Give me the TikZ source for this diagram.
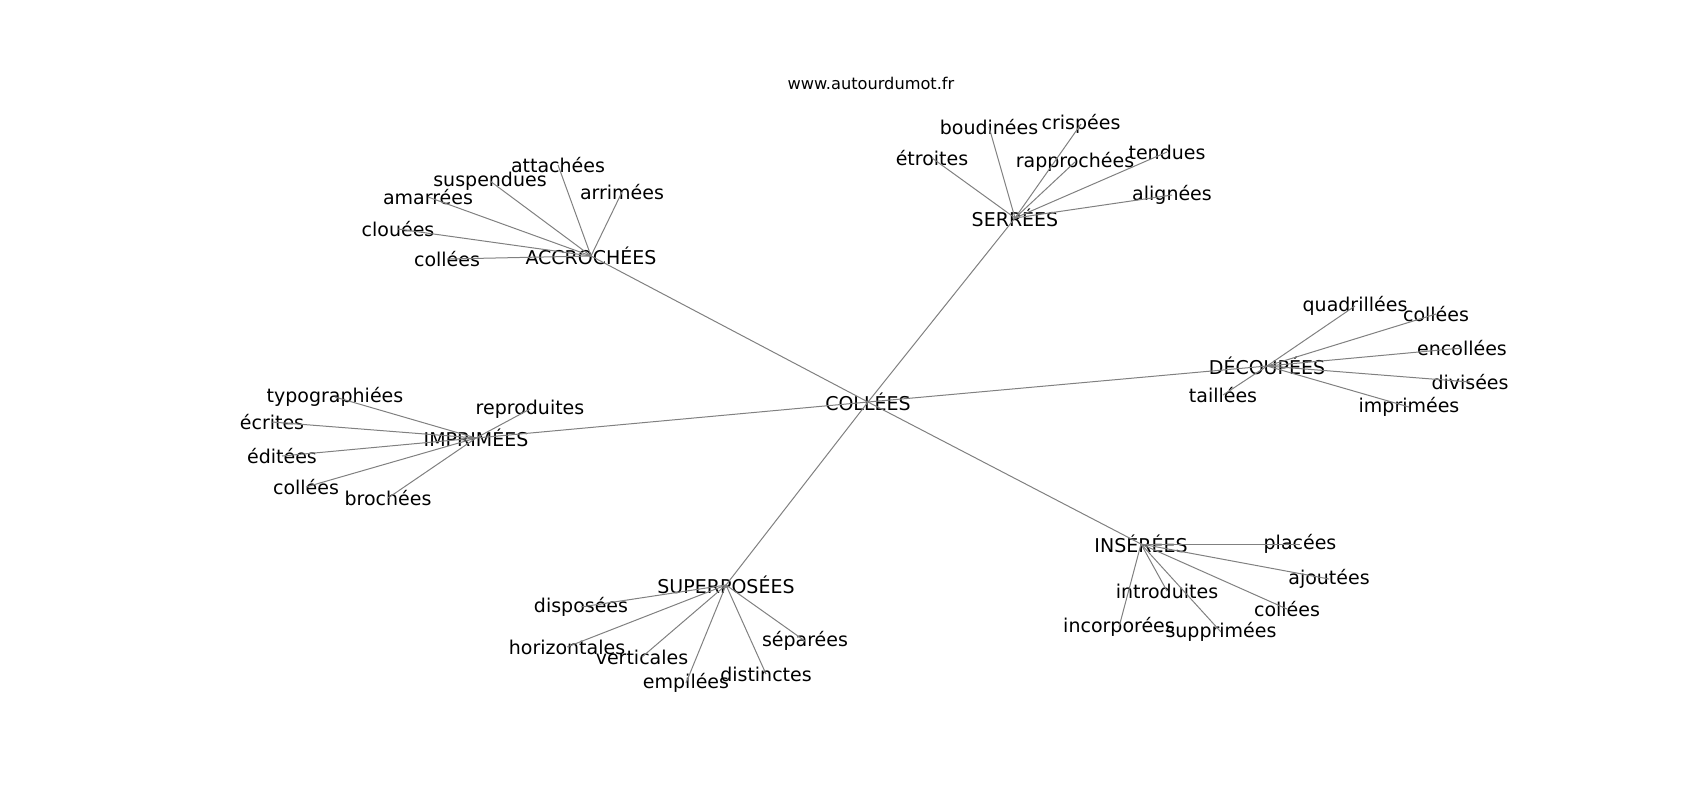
\documentclass[tikz,border=0pt]{standalone}
\usepackage{fontspec}
\setmainfont{DejaVu Sans}

\begin{document}
\begin{tikzpicture}[x=0.5pt,y=-0.5pt,
  mot/.style={inner sep=0pt,font=\fontsize{9.5}{11}\selectfont},
  lien/.style={draw=gray,line width=0.5pt}]
\useasboundingbox (0,0) rectangle (1700,800);
\node[inner sep=0pt,font=\fontsize{8.1}{10}\selectfont] (site) at (871,83) {www.autourdumot.fr};
% centre
\node[mot] (colle) at (868,402) {COLLÉES};
% accrochees
\node[mot] (accro) at (591,256) {ACCROCHÉES};
\node[mot] (acc1) at (447,259) {collées};
\node[mot] (acc2) at (398,229) {clouées};
\node[mot] (acc3) at (428,197) {amarrées};
\node[mot] (acc4) at (490,181) {suspendues};
\node[mot] (acc5) at (558,165) {attachées};
\node[mot] (acc6) at (622,192) {arrimées};
% serrees
\node[mot] (serre) at (1015,218) {SERRÉES};
\node[mot] (ser1) at (932,158) {étroites};
\node[mot] (ser2) at (989,127) {boudinées};
\node[mot] (ser3) at (1081,124) {crispées};
\node[mot] (ser4) at (1075,162) {rapprochées};
\node[mot] (ser5) at (1167,152) {tendues};
\node[mot] (ser6) at (1172,195) {alignées};
% decoupees
\node[mot] (decoup) at (1267,366) {DÉCOUPÉES};
\node[mot] (dec1) at (1355,306) {quadrillées};
\node[mot] (dec2) at (1436,314) {collées};
\node[mot] (dec3) at (1462,348) {encollées};
\node[mot] (dec4) at (1470,382) {divisées};
\node[mot] (dec5) at (1409,407) {imprimées};
\node[mot] (dec6) at (1223,395) {taillées};
% imprimees
\node[mot] (impr) at (476,438) {IMPRIMÉES};
\node[mot] (imp1) at (335,397) {typographiées};
\node[mot] (imp2) at (272,422) {écrites};
\node[mot] (imp3) at (282,456) {éditées};
\node[mot] (imp4) at (306,487) {collées};
\node[mot] (imp5) at (388,498) {brochées};
\node[mot] (imp6) at (530,409) {reproduites};
% superposees
\node[mot] (superp) at (726,585) {SUPERPOSÉES};
\node[mot] (sup1) at (581,607) {disposées};
\node[mot] (sup2) at (567,647) {horizontales};
\node[mot] (sup3) at (642,657) {verticales};
\node[mot] (sup4) at (686,683) {empilées};
\node[mot] (sup5) at (766,674) {distinctes};
\node[mot] (sup6) at (805,641) {séparées};
% inserees
\node[mot] (inser) at (1141,544) {INSÉRÉES};
\node[mot] (ins1) at (1300,544) {placées};
\node[mot] (ins2) at (1329,579) {ajoutées};
\node[mot] (ins3) at (1287,609) {collées};
\node[mot] (ins4) at (1167,591) {introduites};
\node[mot] (ins5) at (1119,627) {incorporées};
\node[mot] (ins6) at (1221,632) {supprimées};
% liens
\draw[lien] (colle.center) -- (accro.center);
\draw[lien] (colle.center) -- (serre.center);
\draw[lien] (colle.center) -- (decoup.center);
\draw[lien] (colle.center) -- (impr.center);
\draw[lien] (colle.center) -- (superp.center);
\draw[lien] (colle.center) -- (inser.center);
\draw[lien] (accro.center) -- (acc1.center);
\draw[lien] (accro.center) -- (acc2.center);
\draw[lien] (accro.center) -- (acc3.center);
\draw[lien] (accro.center) -- (acc4.center);
\draw[lien] (accro.center) -- (acc5.center);
\draw[lien] (accro.center) -- (acc6.center);
\draw[lien] (serre.center) -- (ser1.center);
\draw[lien] (serre.center) -- (ser2.center);
\draw[lien] (serre.center) -- (ser3.center);
\draw[lien] (serre.center) -- (ser4.center);
\draw[lien] (serre.center) -- (ser5.center);
\draw[lien] (serre.center) -- (ser6.center);
\draw[lien] (decoup.center) -- (dec1.center);
\draw[lien] (decoup.center) -- (dec2.center);
\draw[lien] (decoup.center) -- (dec3.center);
\draw[lien] (decoup.center) -- (dec4.center);
\draw[lien] (decoup.center) -- (dec5.center);
\draw[lien] (decoup.center) -- (dec6.center);
\draw[lien] (impr.center) -- (imp1.center);
\draw[lien] (impr.center) -- (imp2.center);
\draw[lien] (impr.center) -- (imp3.center);
\draw[lien] (impr.center) -- (imp4.center);
\draw[lien] (impr.center) -- (imp5.center);
\draw[lien] (impr.center) -- (imp6.center);
\draw[lien] (superp.center) -- (sup1.center);
\draw[lien] (superp.center) -- (sup2.center);
\draw[lien] (superp.center) -- (sup3.center);
\draw[lien] (superp.center) -- (sup4.center);
\draw[lien] (superp.center) -- (sup5.center);
\draw[lien] (superp.center) -- (sup6.center);
\draw[lien] (inser.center) -- (ins1.center);
\draw[lien] (inser.center) -- (ins2.center);
\draw[lien] (inser.center) -- (ins3.center);
\draw[lien] (inser.center) -- (ins4.center);
\draw[lien] (inser.center) -- (ins5.center);
\draw[lien] (inser.center) -- (ins6.center);
\end{tikzpicture}
\end{document}
